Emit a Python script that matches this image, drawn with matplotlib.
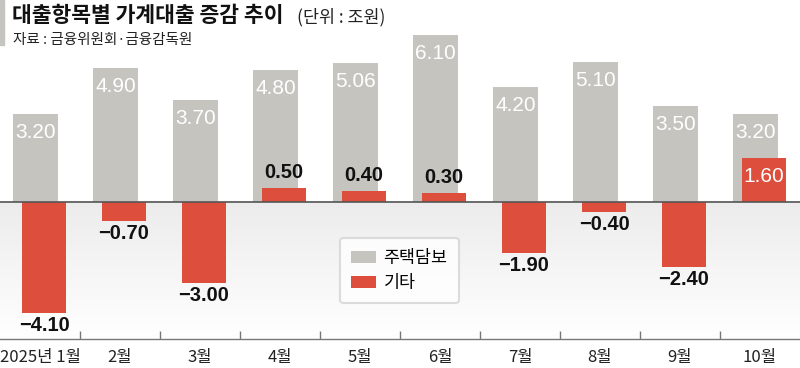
import numpy as np
import matplotlib.pyplot as plt
from matplotlib.patches import Patch

plt.rcParams['font.family'] = ['Noto Sans CJK KR', 'DejaVu Sans']

# 데이터
months = ['2025년 1월', '2월', '3월', '4월', '5월', '6월', '7월', '8월', '9월', '10월']
jutaek = [3.20, 4.90, 3.70, 4.80, 5.06, 6.10, 4.20, 5.10, 3.50, 3.20]
gita = [-4.10, -0.70, -3.00, 0.50, 0.40, 0.30, -1.90, -0.40, -2.40, 1.60]

GRAY = '#c5c4bf'
RED = '#dd4f3c'
NUM_FONT = ['Liberation Sans Narrow', 'Liberation Sans', 'DejaVu Sans']

W, H = 800, 368
fig = plt.figure(figsize=(W / 100, H / 100), dpi=100)
fig.patch.set_facecolor('white')

ax_bottom_px = 339
ax = fig.add_axes([0, 1 - ax_bottom_px / H, 1, ax_bottom_px / H])
zero_px = 201.5
ppu = 27.3  # pixel per unit
ymin = -(ax_bottom_px - zero_px) / ppu
ymax = zero_px / ppu
ax.set_xlim(-0.5, 9.5)
ax.set_ylim(ymin, ymax)

x = np.arange(len(months))

# 음수 영역 배경 그라데이션
grad = np.linspace(0, 1, 100).reshape(-1, 1)
ax.imshow(grad, extent=[-0.5, 9.5, ymin, 0], aspect='auto', origin='upper',
          cmap=plt.matplotlib.colors.LinearSegmentedColormap.from_list('g', ['#ececed', '#ffffff']),
          zorder=0)

ax.bar(x - 0.052, jutaek, width=0.5625, color=GRAY, zorder=2)
ax.bar(x + 0.05, gita, width=0.55, color=RED, zorder=3)

ax.axhline(0, color='#555555', lw=1.2, zorder=4)

# 값 라벨
for i, v in enumerate(jutaek):
    ax.text(x[i] - 0.052, v - 9 / ppu, f'{v:.2f}', ha='center', va='top',
            color='white', fontsize=15, family=NUM_FONT, zorder=5)

for i, v in enumerate(gita):
    s = f'{v:.2f}'.replace('-', '\u2212')
    if v < 0:
        ax.text(x[i] + 0.05, v - 3 / ppu, s, ha='center', va='top',
                color='#111111', fontsize=14.5, fontweight='bold', family=NUM_FONT, zorder=5)
    elif v > 1:
        ax.text(x[i] + 0.05, v - 9 / ppu, s, ha='center', va='top',
                color='white', fontsize=15, family=NUM_FONT, zorder=5)
    else:
        ax.text(x[i] + 0.05, v + 6 / ppu, s, ha='center', va='bottom',
                color='#111111', fontsize=14.5, fontweight='bold', family=NUM_FONT, zorder=5)

# 축
for sp in ['top', 'left', 'right']:
    ax.spines[sp].set_visible(False)
ax.spines['bottom'].set_color('#777777')
ax.spines['bottom'].set_linewidth(1.0)
ax.set_yticks([])
ax.set_xticks(x)
ax.set_xticklabels(months, fontsize=12, color='#222222')
ax.tick_params(axis='x', which='major', length=0, pad=7)
ax.set_xticks(np.arange(0.5, 9.5, 1), minor=True)
ax.tick_params(axis='x', which='minor', direction='in', length=6, color='#777777', width=1)

# 범례
handles = [Patch(facecolor=GRAY, label='주택담보'), Patch(facecolor=RED, label='기타')]
leg = fig.legend(handles=handles, loc='center', bbox_to_anchor=(399.5 / W, 1 - 270.5 / H),
                 fontsize=12.5, frameon=True, fancybox=True, handlelength=1.4,
                 handleheight=0.72, labelspacing=0.42, borderpad=0.65, handletextpad=0.45,
                 borderaxespad=0)
leg.get_frame().set_edgecolor('#d4d4d4')
leg.get_frame().set_linewidth(1.5)
leg.get_frame().set_facecolor('white')
leg.set_zorder(10)

# 제목
fig.patches.append(plt.Rectangle((0, 1 - 45 / H), 4 / W, 45 / H, transform=fig.transFigure,
                                 color='#c5c4bf', zorder=1))
fig.text(12 / W, 1 - 16 / H, '대출항목별 가계대출 증감 추이', fontsize=15.5, fontweight='bold',
         color='#111111', va='center', ha='left')
fig.text(297 / W, 1 - 17 / H, '(단위 : 조원)', fontsize=12.5, color='#222222', va='center', ha='left')
fig.text(13 / W, 1 - 40 / H, '자료 : 금융위원회·금융감독원', fontsize=10.5, color='#222222',
         va='center', ha='left')

fig.savefig('out.png', dpi=100)
